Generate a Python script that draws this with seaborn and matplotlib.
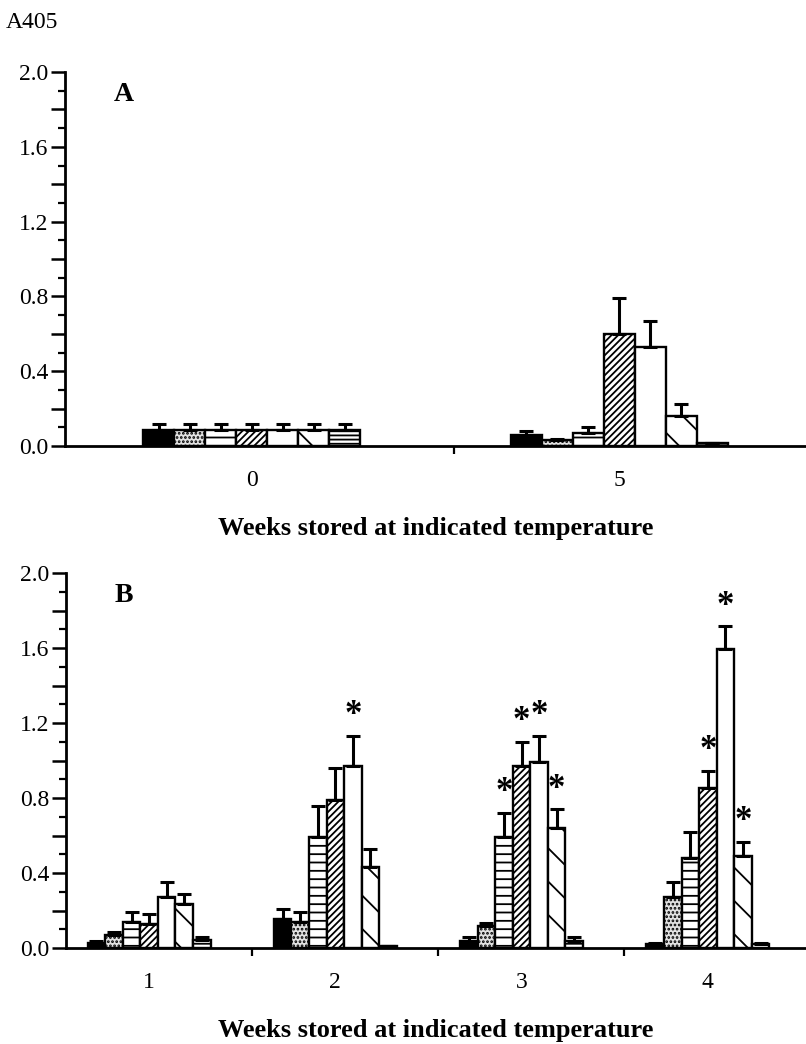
import numpy as np
import pandas as pd
import matplotlib
matplotlib.use("Agg")
import matplotlib.pyplot as plt
import seaborn as sns

sns.set_theme(style="ticks")
plt.rcParams['font.family'] = ['Liberation Serif', 'DejaVu Serif']
plt.rcParams['hatch.linewidth'] = 1.3
plt.rcParams['text.color'] = 'black'
plt.rcParams['axes.labelcolor'] = 'black'
plt.rcParams['xtick.color'] = 'black'
plt.rcParams['ytick.color'] = 'black'

# ---------------- data ----------------
series = ["S1", "S2", "S3", "S4", "S5", "S6", "S7"]

weeks_A = ["0", "5"]
A_w0 = [0.085, 0.085, 0.085, 0.085, 0.085, 0.085, 0.085]
A_w0_err = [0.03, 0.03, 0.03, 0.03, 0.03, 0.03, 0.03]
A_w5 = [0.06, 0.03, 0.07, 0.60, 0.53, 0.16, 0.015]
A_w5_err = [0.02, 0.005, 0.03, 0.19, 0.14, 0.065, 0.0]

weeks_B = ["1", "2", "3", "4"]
B_w1 = [0.025, 0.07, 0.14, 0.13, 0.27, 0.235, 0.045]
B_w1_err = [0.01, 0.015, 0.05, 0.05, 0.08, 0.055, 0.015]
B_w2 = [0.155, 0.14, 0.59, 0.79, 0.97, 0.43, 0.01]
B_w2_err = [0.055, 0.05, 0.17, 0.17, 0.16, 0.10, 0.0]
B_w3 = [0.04, 0.115, 0.59, 0.97, 0.99, 0.64, 0.04]
B_w3_err = [0.02, 0.02, 0.13, 0.13, 0.14, 0.10, 0.02]
B_w4 = [0.02, 0.27, 0.48, 0.855, 1.595, 0.49, 0.02]
B_w4_err = [0.005, 0.08, 0.14, 0.09, 0.12, 0.075, 0.005]

# significance stars (week label -> series indices)
stars_B = {"2": [4], "3": [2, 3, 4, 5], "4": [3, 4, 5]}

xlabel = "Weeks stored at indicated temperature"
ylabel = "A405"

# styles per series
faces = ["black", "#e2e2e2", "white", "white", "white", "white", "white"]
hatches = [None, "....", "--", "/////", None, "\\", "----"]


def build_df(weeks, means, errs):
    rows = []
    for w, m, e in zip(weeks, means, errs):
        for s, mv, ev in zip(series, m, e):
            rows.append({"week": w, "series": s, "value": mv, "err": ev})
    return pd.DataFrame(rows)


dfA = build_df(weeks_A, [A_w0, A_w5], [A_w0_err, A_w5_err])
dfB = build_df(weeks_B, [B_w1, B_w2, B_w3, B_w4],
               [B_w1_err, B_w2_err, B_w3_err, B_w4_err])

W, H = 806, 1044
fig = plt.figure(figsize=(W / 100, H / 100), dpi=100)
axA = fig.add_axes([65 / W, 1 - 446 / H, (W - 65) / W, 374 / H])
axB = fig.add_axes([66 / W, 1 - 948 / H, (W - 66) / W, 375 / H])


def draw(ax, df, weeks, width, xlim, stars, letter):
    sns.barplot(data=df, x="week", y="value", hue="series", order=weeks,
                hue_order=series, errorbar=None, width=width, gap=0,
                palette=["white"] * 7, edgecolor="black", linewidth=1.7,
                ax=ax, legend=False, saturation=1)
    bar_conts = list(ax.containers)
    for i, cont in enumerate(bar_conts):
        sub = df[df["series"] == series[i]].set_index("week").loc[weeks]
        xs, ys = [], []
        for bar in cont:
            bar.set_facecolor(faces[i])
            bar.set_edgecolor("black")
            if hatches[i]:
                bar.set_hatch(hatches[i])
            xs.append(bar.get_x() + bar.get_width() / 2)
            ys.append(bar.get_height())
        errs = sub["err"].values
        ax.errorbar(xs, ys, yerr=[np.zeros(len(errs)), errs], fmt="none",
                    ecolor="black", elinewidth=2.2, capsize=5, capthick=2.2,
                    zorder=1)
        for j, w in enumerate(weeks):
            if i in stars.get(w, []):
                ax.text(xs[j], ys[j] + errs[j] + 0.02, "*", ha="center",
                        va="bottom", fontsize=25, fontweight="bold")
    ax.set_ylim(0, 2.0)
    ax.set_xlim(*xlim)
    ax.set_yticks(np.arange(0, 2.01, 0.2))
    ax.set_yticklabels([f"{v:.1f}" if round(v * 10) % 4 == 0 else ""
                        for v in np.arange(0, 2.01, 0.2)])
    ax.set_yticks(np.arange(0, 2.01, 0.1), minor=True)
    ax.tick_params(axis="y", which="major", length=10, width=1.8,
                   labelsize=17, pad=2)
    ax.tick_params(axis="y", which="minor", length=5, width=1.6)
    ax.tick_params(axis="x", which="major", length=0, labelsize=17, pad=17)
    ax.set_xticks([k + 0.55 for k in range(len(weeks) - 1)], minor=True)
    ax.tick_params(axis="x", which="minor", length=6, width=1.6)
    for s in ["top", "right"]:
        ax.spines[s].set_visible(False)
    for s in ["left", "bottom"]:
        ax.spines[s].set_linewidth(2.0)
        ax.spines[s].set_color("black")
    ax.set_xlabel(xlabel, fontsize=19, fontweight="bold", labelpad=19)
    ax.set_ylabel("")
    ax.text(0.066, 0.94, letter, transform=ax.transAxes, fontsize=20,
            fontweight="bold", ha="left", va="center")
    ax.patch.set_alpha(0)


draw(axA, dfA, weeks_A, 0.59, (-0.508, 1.508), {}, "A")
draw(axB, dfB, weeks_B, 0.66, (-0.446, 3.527), stars_B, "B")

fig.text(6 / W, 1 - 22 / H, ylabel, fontsize=17, ha="left", va="center")

fig.savefig("out.png", dpi=100, facecolor="white")
